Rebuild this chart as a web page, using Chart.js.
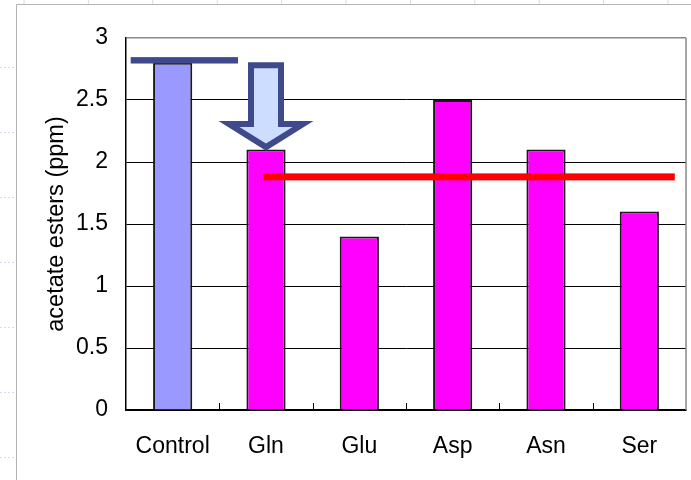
<!DOCTYPE html>
<html>
<head>
<meta charset="utf-8">
<script src="https://cdn.jsdelivr.net/npm/chart.js@4/dist/chart.umd.min.js"></script>
<style>
html,body{margin:0;padding:0;background:#fff;}
#wrap{width:691px;height:480px;position:relative;}
</style>
</head>
<body>
<div id="wrap"><canvas id="c" width="691" height="480"></canvas></div>
<script>
// ---- data ----
const categories = ['Control', 'Gln', 'Glu', 'Asp', 'Asn', 'Ser'];
const esterValues = [2.8, 2.1, 1.4, 2.5, 2.1, 1.6];
const yTicks = [0, 0.5, 1, 1.5, 2, 2.5, 3];
const controlLevel = 2.82;   // dark blue reference line
const averageLevel = 1.88;   // red reference line
const arrowFrom = 2.78;      // arrow top value
const arrowTo = 2.12;        // arrow tip value

const barColors = categories.map((c, i) => i === 0 ? '#9999FF' : '#FF00FF');

const overlay = {
  id: 'overlay',
  beforeDraw(chart) {
    const ctx = chart.ctx;
    ctx.save();
    // slide frame
    ctx.strokeStyle = '#b4b4b4';
    ctx.lineWidth = 1;
    ctx.beginPath();
    ctx.moveTo(16.5, 480); ctx.lineTo(16.5, 4.5); ctx.lineTo(691, 4.5);
    ctx.stroke();
    ctx.strokeStyle = '#d4daf2';
    ctx.setLineDash([2, 2]);
    for (let y = 67; y < 480; y += 65) {
      ctx.beginPath(); ctx.moveTo(0, y + 0.5); ctx.lineTo(15, y + 0.5); ctx.stroke();
    }
    ctx.setLineDash([]);
    for (let x = 24; x < 691; x += 64.4) {
      ctx.beginPath(); ctx.moveTo(x, 0); ctx.lineTo(x, 4); ctx.stroke();
    }
    ctx.restore();
  },
  afterDatasetsDraw(chart) {
    const ctx = chart.ctx;
    const xs = chart.scales.x, ys = chart.scales.y;
    const area = chart.chartArea;
    ctx.save();
    // right border
    ctx.strokeStyle = '#888';
    ctx.lineWidth = 1.5;
    ctx.beginPath();
    ctx.moveTo(area.right, area.top); ctx.lineTo(area.right, area.bottom);
    ctx.stroke();
    // inward category ticks
    ctx.strokeStyle = '#000';
    ctx.lineWidth = 1;
    for (let i = 0; i < categories.length - 1; i++) {
      const x = Math.round(xs.getPixelForValue(i + 0.5)) + 0.5;
      ctx.beginPath(); ctx.moveTo(x, area.bottom); ctx.lineTo(x, area.bottom - 7); ctx.stroke();
    }
    // control reference line
    ctx.fillStyle = '#3F4A8C';
    let y = ys.getPixelForValue(controlLevel);
    let x0 = xs.getPixelForValue(-0.45), x1 = xs.getPixelForValue(0.7);
    ctx.fillRect(x0, y - 3.2, x1 - x0, 6.4);
    // red average line
    ctx.fillStyle = '#FF0000';
    y = ys.getPixelForValue(averageLevel);
    x0 = xs.getPixelForValue(-0.03 + 1); x1 = xs.getPixelForValue(5.38);
    ctx.fillRect(x0, y - 3.5, x1 - x0, 7);
    // arrow over Gln
    const cx = xs.getPixelForValue(1);
    const yTop = ys.getPixelForValue(arrowFrom);
    const yTip = ys.getPixelForValue(arrowTo);
    const shaftHalf = 15, headHalf = 37, headH = 23;
    ctx.beginPath();
    ctx.moveTo(cx - shaftHalf, yTop);
    ctx.lineTo(cx + shaftHalf, yTop);
    ctx.lineTo(cx + shaftHalf, yTip - headH);
    ctx.lineTo(cx + headHalf, yTip - headH);
    ctx.lineTo(cx, yTip);
    ctx.lineTo(cx - headHalf, yTip - headH);
    ctx.lineTo(cx - shaftHalf, yTip - headH);
    ctx.closePath();
    ctx.fillStyle = '#CCDDFF';
    ctx.fill();
    ctx.strokeStyle = '#3F4A8C';
    ctx.lineWidth = 6;
    ctx.lineJoin = 'miter';
    ctx.stroke();
    ctx.restore();
  }
};

new Chart(document.getElementById('c'), {
  type: 'bar',
  data: {
    labels: categories,
    datasets: [{
      data: esterValues,
      backgroundColor: barColors,
      borderColor: '#1a1a1a',
      borderWidth: 2,
      borderSkipped: 'bottom',
      categoryPercentage: 1,
      barPercentage: 0.42
    }]
  },
  options: {
    responsive: false,
    animation: false,
    devicePixelRatio: 1,
    layout: { padding: { left: 0, top: 38, right: 5, bottom: 0 } },
    plugins: { legend: { display: false }, tooltip: { enabled: false } },
    scales: {
      x: {
        grid: { display: false, drawTicks: false },
        border: { color: '#000', width: 1.5 },
        ticks: { color: '#000', padding: 23, font: { family: 'Liberation Sans, Arial', size: 23 } },
        afterFit(s) { s.height = 70; }
      },
      y: {
        min: 0, max: 3,
        afterBuildTicks(s) { s.ticks = yTicks.map(v => ({ value: v })); },
        grid: {
          drawTicks: false,
          color: (c) => c.tick && c.tick.value === 3 ? '#888' : '#000',
          lineWidth: (c) => c.tick && c.tick.value === 3 ? 1.5 : 1
        },
        border: { color: '#000', width: 1.5 },
        ticks: {
          color: '#000', padding: 18,
          font: { family: 'Liberation Sans, Arial', size: 23 },
          callback: (v) => String(v)
        },
        title: {
          display: true, text: 'acetate esters (ppm)', color: '#000',
          font: { family: 'Liberation Sans, Arial', size: 23.5 },
          padding: { top: 42, bottom: 0 }
        },
        afterFit(s) { s.width = 126; }
      }
    }
  },
  plugins: [overlay]
});
</script>
</body>
</html>
